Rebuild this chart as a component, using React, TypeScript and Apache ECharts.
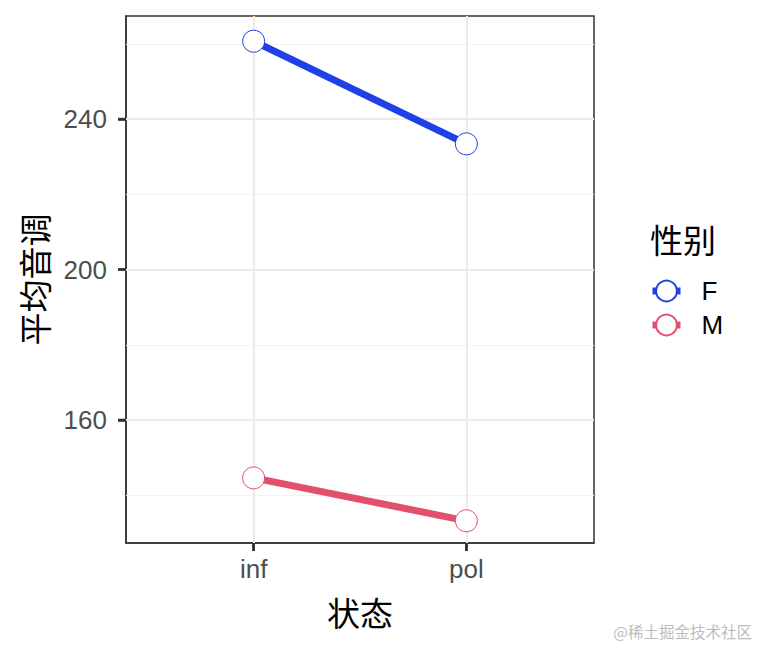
import React, { useEffect, useRef } from "react";
import * as echarts from "echarts";

const categories = ["inf", "pol"];
const seriesNames = ["F", "M"];
const valuesF = [260.7, 233.4];
const valuesM = [144.6, 133.2];
const yMajorTicks = [160, 200, 240];
const yMinorTicks = [140, 180, 220, 260];
const colors = ["#1F40E6", "#E2506E"];

export default function App() {
  const ref = useRef<HTMLDivElement>(null);
  useEffect(() => {
    if (!ref.current) return;
    const chart = echarts.init(ref.current, null, { renderer: "svg" });
    const latin = "Liberation Sans, Arial, sans-serif";
    const cjk = "Noto Sans CJK SC, sans-serif";
    const catPos = categories.map((_, i) => i + 1);
    const yMin = 127.3;
    const yMax = 267.4;
    const xMin = 0.4;
    const xMax = 2.6;
    const tickLen = 8;
    const mkSeries = (name: string, vals: number[], color: string) => ({
      name,
      type: "line",
      z: 5,
      data: vals.map((v, i) => [catPos[i], v]),
      symbol: "circle",
      symbolSize: 22,
      color,
      lineStyle: { color, width: 7 },
      itemStyle: { color: "#ffffff", borderColor: color, borderWidth: 1 },
      emphasis: { disabled: true },
    });
    const tickSeries = (data: number[][], horizontal: boolean) => ({
      type: "custom",
      silent: true,
      clip: false,
      z: 10,
      data,
      encode: { x: 0, y: 1 },
      renderItem: (_params: any, api: any) => {
        const p = api.coord([api.value(0), api.value(1)]);
        const shape = horizontal
          ? { x1: p[0] - tickLen, y1: p[1], x2: p[0], y2: p[1] }
          : { x1: p[0], y1: p[1], x2: p[0], y2: p[1] + tickLen };
        return { type: "line", shape, style: { stroke: "#333333", lineWidth: 2.5 } };
      },
    });
    chart.setOption({
      animation: false,
      grid: {
        left: 126,
        right: 166,
        top: 16,
        bottom: 106,
        show: true,
        borderColor: "#333333",
        borderWidth: 1.5,
        backgroundColor: "#ffffff",
      },
      xAxis: {
        type: "value",
        min: xMin,
        max: xMax,
        axisLine: { show: true, lineStyle: { color: "#333333", width: 1.5 } },
        splitLine: { show: false },
        axisTick: {
          show: true,
          length: tickLen,
          customValues: catPos,
          lineStyle: { color: "#333333", width: 2.5 },
        },
        axisLabel: {
          customValues: catPos,
          formatter: (v: number) => categories[Math.round(v) - 1] ?? "",
          color: "#4d4d4d",
          fontSize: 26,
          fontFamily: latin,
          margin: 13,
        },
        name: "状态",
        nameLocation: "middle",
        nameGap: 52,
        nameTextStyle: { color: "#000", fontSize: 33, fontFamily: cjk },
      },
      yAxis: {
        type: "value",
        min: yMin,
        max: yMax,
        axisLine: { show: true, lineStyle: { color: "#333333", width: 1.5 } },
        splitLine: { show: false },
        axisTick: {
          show: true,
          length: tickLen,
          customValues: yMajorTicks,
          lineStyle: { color: "#333333", width: 2.5 },
        },
        axisLabel: {
          customValues: yMajorTicks,
          color: "#4d4d4d",
          fontSize: 26,
          fontFamily: latin,
          margin: 19,
        },
        name: "平均音调",
        nameLocation: "middle",
        nameGap: 76,
        nameRotate: 90,
        nameTextStyle: { color: "#000", fontSize: 33, fontFamily: cjk },
      },
      legend: {
        orient: "vertical",
        left: 644,
        top: 273,
        itemWidth: 28,
        itemHeight: 26,
        itemGap: 8,
        data: seriesNames,
        lineStyle: { width: 7 },
        textStyle: { color: "#000", fontSize: 26, fontFamily: latin, padding: [0, 0, 0, 16] },
        selectedMode: false,
      },
      graphic: [
        {
          type: "text",
          left: 650,
          top: 222,
          style: { text: "性别", fontSize: 33, fontFamily: cjk, fill: "#000" },
        },
        {
          type: "text",
          right: 8,
          bottom: 10,
          style: { text: "@稀土掘金技术社区", fontSize: 15.5, fontFamily: cjk, fill: "#bdbdbd" },
        },
      ],
      series: [
        {
          name: "grid",
          type: "line",
          data: [],
          z: 1,
          silent: true,
          markLine: {
            silent: true,
            symbol: "none",
            label: { show: false },
            animation: false,
            data: [
              ...yMinorTicks.map((v) => ({ yAxis: v, lineStyle: { color: "#f2f2f2", width: 1, type: "solid" } })),
              ...yMajorTicks.map((v) => ({ yAxis: v, lineStyle: { color: "#ebebeb", width: 2, type: "solid" } })),
              ...catPos.map((v) => ({ xAxis: v, lineStyle: { color: "#ebebeb", width: 2, type: "solid" } })),
            ],
          },
        },
        tickSeries(yMajorTicks.map((v) => [xMin, v]), true),
        tickSeries(catPos.map((v) => [v, yMin]), false),
        mkSeries(seriesNames[0], valuesF, colors[0]),
        mkSeries(seriesNames[1], valuesM, colors[1]),
      ],
    });
    return () => chart.dispose();
  }, []);
  return (
    <div
      ref={ref}
      style={{ position: "fixed", left: 0, top: 0, width: 760, height: 649, background: "#fff" }}
    />
  );
}
